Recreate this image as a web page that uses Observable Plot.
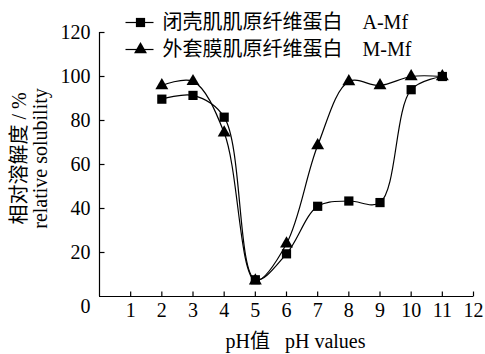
<!DOCTYPE html>
<html>
<head>
<meta charset="utf-8">
<script src="https://cdn.jsdelivr.net/npm/d3@7"></script>
<script src="https://cdn.jsdelivr.net/npm/@observablehq/plot@0.6"></script>
<style>
  body { margin: 0; background: #fff; }
  #chart svg { display: block; }
  #chart svg text { font-family: "Liberation Serif", "Times New Roman", "Noto Sans CJK SC", serif !important; }
</style>
</head>
<body>
<div id="chart"></div>
<script>
const pH = [2, 3, 4, 5, 6, 7, 8, 9, 10, 11];
const amf = [89.7, 91.4, 81.5, 7.6, 19.4, 41.0, 43.4, 42.7, 94.0, 100.0];
const mmf = [95.9, 97.8, 74.4, 7.2, 24.0, 68.6, 97.7, 95.9, 100.0, 100.0];
const seriesNames = ["闭壳肌肌原纤维蛋白\u3000A-Mf", "外套膜肌原纤维蛋白\u3000M-Mf"];
const xTicks = [1, 2, 3, 4, 5, 6, 7, 8, 9, 10, 11, 12];
const yTicks = [20, 40, 60, 80, 100, 120];
const yLabel1 = "相对溶解度 / %";
const yLabel2 = "relative solubility";
const xLabel = "pH值\u00a0\u00a0 pH values";

const rows = [];
pH.forEach((p, i) => rows.push({s: 0, x: p, y: amf[i]}));
pH.forEach((p, i) => rows.push({s: 1, x: p, y: mmf[i]}));
const A = rows.filter(d => d.s === 0);
const M = rows.filter(d => d.s === 1);

const hTick = {draw(ctx) { ctx.moveTo(0, 0); ctx.lineTo(5, 0); }};
const vTick = {draw(ctx) { ctx.moveTo(0, 0); ctx.lineTo(0, -5); }};
const legLine = {draw(ctx) { ctx.moveTo(-15, 0); ctx.lineTo(13, 0); }};

const font = "Liberation Serif, Times New Roman, Noto Sans CJK SC, serif";

const chart = Plot.plot({
  width: 485,
  height: 354,
  marginLeft: 99,
  marginRight: 12,
  marginTop: 32,
  marginBottom: 58,
  style: {fontFamily: font, fontSize: "20px", background: "#fff", color: "#000", overflow: "visible"},
  x: {domain: [0, 12]},
  y: {domain: [0, 120]},
  marks: [
    Plot.axisX({ticks: xTicks, tickSize: 0, tickPadding: 6, fontSize: 20, label: null}),
    Plot.axisY({ticks: yTicks, tickSize: 0, tickPadding: 9, fontSize: 20, label: null}),
    Plot.ruleX([0], {stroke: "#000", strokeWidth: 1.2}),
    Plot.ruleY([0], {stroke: "#000", strokeWidth: 1.2}),
    Plot.dot(xTicks, {x: d => d, y: 0, symbol: vTick, stroke: "#000", strokeWidth: 1.2, fill: "none"}),
    Plot.dot(yTicks, {x: 0, y: d => d, symbol: hTick, stroke: "#000", strokeWidth: 1.2, fill: "none"}),
    Plot.text(["0"], {frameAnchor: "bottom-left", dx: -14, dy: 16, fontSize: 20, textAnchor: "middle"}),
    Plot.line(A, {x: "x", y: "y", curve: "catmull-rom", stroke: "#000", strokeWidth: 1.2}),
    Plot.line(M, {x: "x", y: "y", curve: "catmull-rom", stroke: "#000", strokeWidth: 1.2}),
    Plot.dot(A, {x: "x", y: "y", symbol: "square", r: 5.2, fill: "#000", stroke: "none"}),
    Plot.dot(M, {x: "x", y: "y", symbol: "triangle", r: 4.8, fill: "#000", stroke: "none"}),
    // legend
    Plot.dot([0], {frameAnchor: "top-left", dx: 41, dy: -10, symbol: legLine, stroke: "#000", strokeWidth: 1.2, fill: "none"}),
    Plot.dot([0], {frameAnchor: "top-left", dx: 41, dy: -10, symbol: "square", r: 5.2, fill: "#000", stroke: "none"}),
    Plot.text([seriesNames[0]], {frameAnchor: "top-left", dx: 63, dy: -10, textAnchor: "start", lineAnchor: "middle", fontSize: 20}),
    Plot.dot([0], {frameAnchor: "top-left", dx: 41, dy: 17, symbol: legLine, stroke: "#000", strokeWidth: 1.2, fill: "none"}),
    Plot.dot([0], {frameAnchor: "top-left", dx: 41, dy: 17, symbol: "triangle", r: 4.8, fill: "#000", stroke: "none"}),
    Plot.text([seriesNames[1]], {frameAnchor: "top-left", dx: 63, dy: 17, textAnchor: "start", lineAnchor: "middle", fontSize: 20}),
    // axis titles
    Plot.text([yLabel1], {frameAnchor: "left", dx: -80, dy: -6, rotate: -90, fontSize: 20, textAnchor: "middle", lineAnchor: "middle"}),
    Plot.text([yLabel2], {frameAnchor: "left", dx: -59, dy: -6, rotate: -90, fontSize: 20, textAnchor: "middle", lineAnchor: "middle"}),
    Plot.text([xLabel], {frameAnchor: "bottom", dx: 9, dy: 45, fontSize: 20, textAnchor: "middle", lineAnchor: "middle"})
  ]
});
document.getElementById("chart").appendChild(chart);
</script>
</body>
</html>
